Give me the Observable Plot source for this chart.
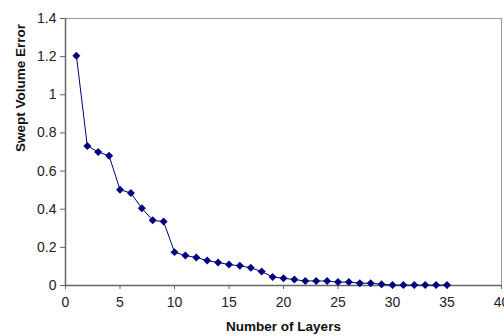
<!DOCTYPE html>
<html><head><meta charset="utf-8">
<script src="https://cdn.jsdelivr.net/npm/d3@7"></script>
<script src="https://cdn.jsdelivr.net/npm/@observablehq/plot@0.6"></script>
<style>
html,body{margin:0;padding:0;background:#fff;}
</style>
</head><body>
<div id="chart"></div>
<script>
const layers = [1,2,3,4,5,6,7,8,9,10,11,12,13,14,15,16,17,18,19,20,21,22,23,24,25,26,27,28,29,30,31,32,33,34,35];
const errors = [1.205,0.732,0.700,0.680,0.502,0.485,0.405,0.342,0.335,0.175,0.157,0.147,0.131,0.121,0.110,0.103,0.093,0.073,0.045,0.038,0.031,0.024,0.024,0.023,0.018,0.018,0.012,0.012,0.007,0.002,0.002,0.002,0.002,0.002,0.002];
const xTicks = [0,5,10,15,20,25,30,35,40];
const yTicks = [0,0.2,0.4,0.6,0.8,1,1.2,1.4];
const yTickLabels = ["0","0.2","0.4","0.6","0.8","1","1.2","1.4"];

const data = layers.map((x,i)=>({x, y: errors[i]}));

const chart = Plot.plot({
  width: 504,
  height: 336,
  marginLeft: 65,
  marginRight: 3,
  marginTop: 18,
  marginBottom: 51,
  style: {fontFamily: "Liberation Sans, Arial, sans-serif", fontSize: "14px", color: "#222", background: "#fff"},
  x: {domain: [0,40]},
  y: {domain: [0,1.4]},
  marks: [
    Plot.ruleY([1.4], {stroke: "#999", strokeWidth: 1}),
    Plot.ruleX([40], {stroke: "#999", strokeWidth: 1}),
    Plot.ruleX([0], {stroke: "#666", strokeWidth: 1.5}),
    Plot.ruleY([0], {stroke: "#666", strokeWidth: 1.5}),
    Plot.axisX({ticks: xTicks, tickSize: 4, tickPadding: 8, stroke: "#666", label: null, fontSize: 14}),
    Plot.axisY({ticks: yTicks, tickSize: 5, tickPadding: 4, stroke: "#666", label: null, fontSize: 14,
      tickFormat: d => yTickLabels[yTicks.indexOf(d)]}),
    Plot.text(["Number of Layers"], {frameAnchor: "bottom", dy: 45, fontWeight: "bold", fontSize: 13.5, fill: "#111"}),
    Plot.text(["Swept Volume Error"], {frameAnchor: "left", dx: -45, rotate: -90, fontWeight: "bold", fontSize: 13.5, fill: "#111"}),
    Plot.line(data, {x: "x", y: "y", stroke: "#000080", strokeWidth: 1}),
    Plot.dot(data, {x: "x", y: "y", symbol: "diamond2", r: 3.6, fill: "#000080", stroke: "none"})
  ]
});
document.getElementById("chart").appendChild(chart);
</script>
</body></html>
